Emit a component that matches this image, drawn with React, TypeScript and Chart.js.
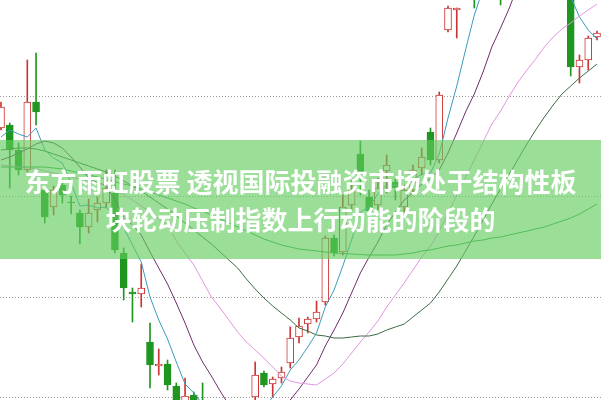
import React, { useEffect, useRef } from 'react';
import { Chart, registerables } from 'chart.js';

Chart.register(...registerables);

// Daily candles (price)
const openP = [36.9,37.2,34.7,32.7,39.5,30.7,29.0,31.2,29.5,28.4,27.0,28.7,29.4,30.4,24.4,20.5,20.3,15.5,13.1,13.3,11.1,9.4,10.2,9.5,7.7,6.6,5.5,6.2,7.0,10.0,12.4,11.3,11.9,13.4,16.0,17.3,17.8,19.5,25.9,24.5,29.2,34.3,30.0,29.2,32.6,31.5,29.0,30.7,32.9,36.5,33.7,46.7,48.7,50.5,52.5,51.0,53.3,55.2,52.3,54.2,56.8,55.3,53.8,52.4,51.0,51.5,43.0,43.7,46.0];
const highP = [39.5,37.4,35.4,43.7,44.4,31.0,31.1,31.7,30.1,28.7,29.8,30.0,32.7,32.7,24.9,20.9,23.3,17.4,14.8,13.7,11.4,11.9,10.5,11.4,8.5,7.5,6.8,7.6,8.8,13.5,12.6,12.0,13.0,17.0,17.9,18.0,19.6,26.1,26.2,30.2,31.7,35.6,30.7,31.9,34.2,31.9,31.2,33.2,34.9,36.9,40.5,49.1,48.9,52.8,53.0,54.0,55.6,56.0,55.2,57.0,57.8,56.0,54.5,53.0,51.6,52.0,44.2,46.1,46.6];
const lowP = [36.7,30.9,32.2,32.5,37.2,27.4,28.2,29.4,28.3,25.3,26.4,27.5,28.9,24.4,19.7,17.5,19.0,10.9,12.2,10.7,8.2,8.7,8.2,6.7,6.0,5.2,5.0,5.8,6.6,9.7,11.0,10.0,11.4,12.9,15.4,16.4,17.5,19.2,24.1,24.2,28.7,30.2,28.2,28.7,30.4,29.7,28.5,30.2,32.2,33.2,33.4,46.5,45.9,50.0,48.9,50.4,52.6,49.2,51.5,53.5,54.3,53.0,51.6,50.3,49.9,42.1,41.4,42.7,45.7];
const closeP = [39.0,34.7,32.7,39.5,38.5,28.0,30.7,30.2,29.4,27.0,28.4,29.4,30.9,24.7,20.9,20.3,20.9,13.2,13.3,11.2,8.7,10.1,8.7,7.7,6.5,5.8,6.3,7.0,8.0,12.2,11.2,11.8,12.5,15.9,17.1,17.8,18.5,25.9,24.4,29.0,30.7,32.5,28.6,30.9,33.2,30.9,30.7,32.7,34.0,33.7,40.2,48.9,48.9,52.0,50.8,53.5,55.0,52.0,54.5,56.5,55.0,53.7,52.2,50.7,50.2,43.0,43.7,45.9,46.4];

// Moving average lines
const ma5 = [36.0,36.7,36.3,36.0,36.9,34.7,33.9,33.4,31.4,29.1,29.2,28.9,29.0,28.1,26.9,25.2,23.5,20.0,17.7,15.8,13.5,11.3,10.4,9.3,8.3,7.8,7.0,6.7,6.7,7.9,8.9,10.0,11.1,12.7,13.7,15.0,16.4,19.0,20.7,23.1,25.7,28.5,29.0,30.3,31.2,31.2,30.9,31.7,32.3,32.4,34.3,37.9,41.1,44.7,48.2,50.8,52.0,52.7,53.2,54.3,54.6,54.3,54.4,53.6,52.4,50.0,48.0,46.7,45.8];
const ma10 = [33.7,34.0,34.4,34.8,35.3,35.6,35.4,34.9,34.0,33.0,31.9,31.4,31.2,29.7,28.0,27.2,26.2,24.5,22.9,21.3,19.4,17.4,15.2,13.5,12.1,10.6,9.2,8.5,8.0,8.1,8.4,8.5,8.9,9.7,10.8,12.0,13.2,15.1,16.7,18.4,20.4,22.4,24.0,25.5,27.2,28.5,29.7,30.4,31.3,31.8,32.7,34.4,36.4,38.5,40.3,42.5,45.0,46.9,48.9,51.2,52.7,53.2,53.5,53.4,53.3,52.3,51.2,50.5,49.7];
const ma20 = [33.2,33.1,33.0,32.9,32.8,32.6,32.4,32.2,32.0,31.8,31.6,31.4,31.1,30.7,30.2,29.7,29.1,28.5,27.8,27.2,25.6,24.4,23.2,21.6,20.0,18.9,17.7,16.5,15.5,14.7,13.9,13.0,12.1,11.6,11.4,11.3,11.2,11.8,12.4,13.3,14.4,15.5,16.5,17.6,19.0,20.2,21.4,22.7,24.0,25.1,26.6,28.4,30.2,32.0,33.7,35.5,37.3,38.6,40.1,41.5,42.7,43.8,45.0,46.0,46.8,47.4,48.1,48.7,49.3];
const ma30 = [34.7,34.8,34.9,34.9,34.8,34.6,34.3,34.0,33.7,33.4,33.1,32.8,32.5,32.1,31.6,31.1,30.6,30.0,29.4,28.8,28.1,27.4,26.7,26.0,25.3,24.5,23.7,22.9,21.8,20.8,19.9,19.1,18.4,17.7,16.9,16.6,16.2,16.1,15.9,15.9,16.0,16.1,16.1,16.3,16.7,17.0,17.3,18.0,18.7,19.4,20.5,21.8,23.1,24.6,26.1,27.7,29.3,30.8,32.3,33.8,35.3,36.7,38.0,39.2,40.3,41.1,41.9,42.6,43.3];
const ma60 = [33.0,33.0,33.0,33.0,33.0,33.0,32.9,32.8,32.6,32.4,32.2,32.0,31.8,31.5,31.3,31.1,30.8,30.5,30.2,29.9,29.6,29.3,28.9,28.6,28.2,27.8,27.4,27.0,26.6,26.2,25.8,25.5,25.2,25.0,24.8,24.7,24.6,24.5,24.4,24.35,24.3,24.25,24.2,24.2,24.2,24.2,24.3,24.4,24.6,24.7,24.9,25.1,25.2,25.4,25.6,25.7,25.9,26.0,26.2,26.4,26.6,26.8,27.0,27.3,27.6,27.9,28.3,28.8,29.3];

const gridTicks = [10, 20, 30, 40];
const titleLine1 = '东方雨虹股票 透视国际投融资市场处于结构性板';
const titleLine2 = '块轮动压制指数上行动能的阶段的';

const UP = '#cc3535';
const DOWN = '#1f961f';

export default function App() {
  const ref = useRef<HTMLCanvasElement>(null);

  useEffect(() => {
    const idx = openP.map((_, i) => i);
    const isUp = idx.map((i) => closeP[i] >= openP[i]);
    const line = (data: number[], color: string) => ({
      type: 'line' as const,
      data: idx.map((i) => ({ x: i, y: data[i] })),
      borderColor: color,
      borderWidth: 1,
      pointRadius: 0,
      tension: 0,
      order: 1,
    });
    const chart = new Chart(ref.current as HTMLCanvasElement, {
      type: 'bar',
      data: {
        datasets: [
          line(ma60, '#34a24a'),
          line(ma30, '#3b6b42'),
          line(ma20, '#e295e2'),
          line(ma10, '#702c6c'),
          line(ma5, '#3a9cbc'),
          {
            type: 'bar',
            data: idx.map((i) => ({ x: i, y: [openP[i], closeP[i]] })),
            backgroundColor: idx.map((i) => (isUp[i] ? '#ffffff' : DOWN)),
            borderColor: idx.map((i) => (isUp[i] ? UP : DOWN)),
            borderWidth: 1,
            borderSkipped: false,
            barThickness: 7,
            grouped: false,
            order: 2,
          } as any,
          {
            type: 'bar',
            data: idx.map((i) => ({ x: i, y: [lowP[i], highP[i]] })),
            backgroundColor: idx.map((i) => (isUp[i] ? UP : DOWN)),
            borderWidth: 0,
            barThickness: 1,
            grouped: false,
            order: 3,
          } as any,
        ],
      },
      options: {
        animation: false,
        responsive: false,
        maintainAspectRatio: false,
        layout: { padding: 0 },
        plugins: { legend: { display: false }, tooltip: { enabled: false } },
        scales: {
          x: { type: 'linear', min: -0.114, max: 68.456, display: false, offset: false },
          y: {
            type: 'linear',
            min: 9.7,
            max: 49.7,
            display: true,
            ticks: { display: false },
            border: { display: false, dash: [1, 2] },
            grid: { color: '#9a9a9a', drawTicks: false, lineWidth: 1 },
            afterBuildTicks: (s: any) => {
              s.ticks = gridTicks.map((v) => ({ value: v }));
            },
          },
        },
      } as any,
    });
    return () => chart.destroy();
  }, []);

  return (
    <div style={{ position: 'fixed', left: 0, top: 0, width: 601, height: 400, background: '#ffffff', overflow: 'hidden' }}>
      <canvas ref={ref} width={601} height={400} style={{ display: 'block', width: 601, height: 400 }} />
      <div
        style={{
          position: 'absolute',
          left: 0,
          top: 140,
          width: 601,
          height: 119,
          boxSizing: 'border-box',
          paddingTop: 22,
          background: 'rgba(100,205,95,0.65)',
          color: '#ffffff',
          fontFamily: '"Noto Sans CJK SC", sans-serif',
          fontWeight: 700,
          fontSize: 26,
          lineHeight: '38px',
          textAlign: 'center',
        }}
      >
        <div style={{ whiteSpace: 'nowrap' }}>{titleLine1}</div>
        <div style={{ whiteSpace: 'nowrap' }}>{titleLine2}</div>
      </div>
    </div>
  );
}
